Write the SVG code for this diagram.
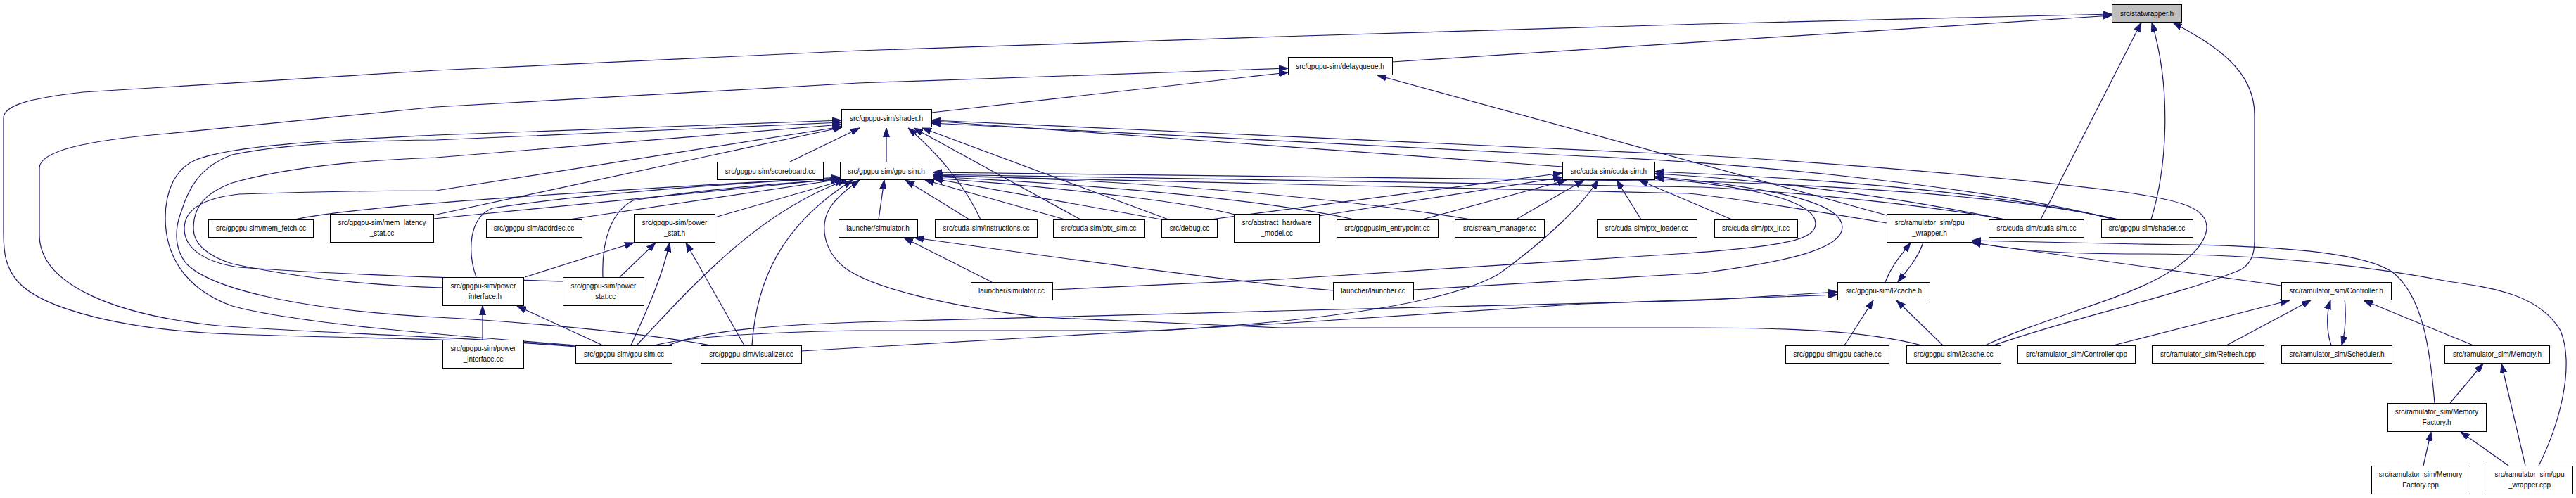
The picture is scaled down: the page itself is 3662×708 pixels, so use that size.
<svg xmlns="http://www.w3.org/2000/svg" width="3662" height="708" viewBox="0 0 3662 708">
<style>
.e{fill:none;stroke:#191970;stroke-width:1.2;marker-end:url(#ah)}
.n rect{fill:#fff;stroke:#000;stroke-width:1}
.n.root rect{fill:#bfbfbf}
text{font-family:"Liberation Sans",Arial,Helvetica,sans-serif;font-size:10px;text-anchor:middle;fill:#000}
</style>
<defs>
<marker id="ah" markerWidth="13" markerHeight="10" refX="13" refY="5" orient="auto" markerUnits="userSpaceOnUse">
<path d="M0,0.5 L13,5 L0,9.5 z" fill="#191970" stroke="#191970" stroke-width="1"/>
</marker>
</defs>
<rect width="3662" height="708" fill="#fff"/>
<g id="edges">
<path class="e" d="M1979,88 L3002,22"/>
<path class="e" d="M818,493 C700,482 500,481 330,475 C180,470 60,440 25,400 C8,380 5,360 5,330 L5,168 C5,150 40,140 118,131 L620,100 L1220,72 L1820,52 L2420,34 L3002,20"/>
<path class="e" d="M818,492 C700,480 400,472 300,462 C150,445 56,400 56,334 L56,239 C56,215 120,200 237,190 L620,152 L1220,118 L1831,97"/>
<path class="e" d="M820,491 C650,478 420,460 330,435 C260,410 235,360 235,310 C235,270 250,240 277,228 C330,205 500,198 620,192 L1196,171"/>
<path class="e" d="M1010,491 C900,470 700,455 620,451 C420,440 300,410 265,375 C245,350 250,320 258,300 C270,260 290,235 330,220 C400,205 500,200 620,199 L1196,174"/>
<path class="e" d="M629,409 C500,405 400,390 330,375 C290,362 275,345 275,325 C275,295 290,275 330,260 C400,240 500,228 620,224 L1196,177"/>
<path class="e" d="M800,400 C700,397 500,392 340,380 C285,372 262,350 262,325 C262,300 285,282 340,276 C450,272 550,271 620,271 L1197,180"/>
<path class="e" d="M419,312 C500,295 700,280 1194,252"/>
<path class="e" d="M616,306 L1197,181"/>
<path class="e" d="M616,311 L1194,254"/>
<path class="e" d="M677,394 C665,360 665,310 700,296 C800,280 1000,262 1194,253"/>
<path class="e" d="M809,312 L1194,255"/>
<path class="e" d="M1016,309 L1200,256"/>
<path class="e" d="M857,394 C855,340 870,300 900,285 C1000,268 1150,258 1194,255"/>
<path class="e" d="M881,394 L932,345"/>
<path class="e" d="M746,394 L901,345"/>
<path class="e" d="M897,491 C915,450 940,400 952,345"/>
<path class="e" d="M1058,491 L975,345"/>
<path class="e" d="M857,491 L735,435"/>
<path class="e" d="M686,483 L686,435"/>
<path class="e" d="M905,491 C990,400 1080,300 1203,256"/>
<path class="e" d="M1069,491 C1075,400 1110,320 1212,256"/>
<path class="e" d="M1139,499 L1500,478 L1820,460 L2250,432 L2612,419"/>
<path class="e" d="M950,491 C1000,470 1100,462 1220,458 L1820,442 L2420,427 L2612,415"/>
<path class="e" d="M930,491 C980,478 1100,472 1220,470 L1650,470 C1850,458 2050,435 2130,390 C2200,340 2250,290 2272,256"/>
<path class="e" d="M2732,491 C2650,470 2550,466 2400,466 L1820,466 L1480,451 C1350,436 1240,410 1200,380 C1170,355 1165,320 1180,295 C1190,280 1205,268 1222,256"/>
<path class="e" d="M2822,491 C2900,455 3000,430 3060,400 C3110,375 3137,345 3137,323 C3137,295 3100,285 3020,273 C2800,245 2500,225 2400,220 L1324,171"/>
<path class="e" d="M3005,312 C2850,270 2500,232 2250,222 L1324,175"/>
<path class="e" d="M2834,491 C2950,450 3100,420 3186,383 C3200,375 3205,360 3205,343 L3205,163 C3205,100 3150,65 3089,32"/>
<path class="e" d="M2762,491 L2696,427"/>
<path class="e" d="M2622,491 L2663,427"/>
<path class="e" d="M2901,312 L3044,32"/>
<path class="e" d="M3058,312 C3080,240 3088,130 3059,32"/>
<path class="e" d="M2682,306 L1958,107"/>
<path class="e" d="M1324,160 L1831,103"/>
<path class="e" d="M2734,345 C2725,370 2710,385 2698,401"/>
<path class="e" d="M2680,401 C2690,375 2705,360 2716,345"/>
<path class="e" d="M2682,317 C2550,295 2450,280 2400,275 L1326,250"/>
<path class="e" d="M2851,312 C2700,285 2500,270 2420,266 L1326,248"/>
<path class="e" d="M3012,312 C2850,275 2550,262 2420,258 L1326,245"/>
<path class="e" d="M2849,312 C2650,270 2450,252 2352,247"/>
<path class="e" d="M3010,312 C2800,265 2500,250 2352,244"/>
<path class="e" d="M2009,412 L2420,388 C2560,370 2619,350 2619,323 C2619,295 2560,270 2352,251"/>
<path class="e" d="M1496,412 L1820,397 L2400,360 C2540,350 2581,340 2581,318 C2581,295 2540,270 2352,253"/>
<path class="e" d="M2462,312 L2330,256"/>
<path class="e" d="M2333,312 L2298,256"/>
<path class="e" d="M2155,312 L2252,256"/>
<path class="e" d="M2022,312 L2227,256"/>
<path class="e" d="M1721,312 L2221,246"/>
<path class="e" d="M1875,307 L2221,252"/>
<path class="e" d="M2221,237 L1325,172"/>
<path class="e" d="M2091,312 C1900,280 1600,255 1327,249"/>
<path class="e" d="M1925,312 C1800,285 1600,265 1327,251"/>
<path class="e" d="M1755,305 C1700,290 1550,270 1327,253"/>
<path class="e" d="M1651,312 L1327,254"/>
<path class="e" d="M1661,312 L1311,182"/>
<path class="e" d="M1536,312 L1299,182"/>
<path class="e" d="M1514,312 L1315,256"/>
<path class="e" d="M1394,312 C1370,260 1330,215 1291,182"/>
<path class="e" d="M1378,312 L1287,256"/>
<path class="e" d="M1249,312 L1257,256"/>
<path class="e" d="M1260,230 L1260,182"/>
<path class="e" d="M1123,230 L1222,182"/>
<path class="e" d="M1410,401 L1285,338"/>
<path class="e" d="M1895,413 C1800,405 1600,380 1300,338"/>
<path class="e" d="M3004,491 L3255,427"/>
<path class="e" d="M3165,491 L3285,427"/>
<path class="e" d="M3314,491 C3307,470 3307,445 3313,427"/>
<path class="e" d="M3329,401 C3336,430 3336,465 3329,491"/>
<path class="e" d="M3516,491 L3360,427"/>
<path class="e" d="M3483,573 L3530,517"/>
<path class="e" d="M3590,662 L3556,517"/>
<path class="e" d="M3445,662 L3456,614"/>
<path class="e" d="M3566,662 L3498,614"/>
<path class="e" d="M3461,573 C3455,500 3445,420 3400,386 C3360,360 3250,348 3042,347 L2803,342"/>
<path class="e" d="M3609,662 C3640,600 3660,520 3640,470 C3610,420 3550,410 3480,400 C3350,375 3200,361 3042,361 C2950,361 2870,358 2803,344"/>
<path class="e" d="M3243,406 L2803,345"/>
</g>
<g id="n_statwrapper" class="n root"><rect x="3002.5" y="6.5" width="99" height="25"/><text x="3052" y="22.5">src/statwrapper.h</text></g>
<g id="n_delayqueue" class="n"><rect x="1831.5" y="81.5" width="148" height="25"/><text x="1905" y="97.5">src/gpgpu-sim/delayqueue.h</text></g>
<g id="n_shader_h" class="n"><rect x="1196.5" y="155.5" width="128" height="25"/><text x="1260" y="171.5">src/gpgpu-sim/shader.h</text></g>
<g id="n_gpusim_h" class="n"><rect x="1194.5" y="230.5" width="132" height="25"/><text x="1260" y="246.5">src/gpgpu-sim/gpu-sim.h</text></g>
<g id="n_scoreboard" class="n"><rect x="1019.5" y="230.5" width="151" height="25"/><text x="1095" y="246.5">src/gpgpu-sim/scoreboard.cc</text></g>
<g id="n_cudasim_h" class="n"><rect x="2221.5" y="230.5" width="131" height="25"/><text x="2287" y="246.5">src/cuda-sim/cuda-sim.h</text></g>
<g id="n_mem_fetch" class="n"><rect x="296.5" y="312.5" width="149" height="25"/><text x="371" y="328">src/gpgpu-sim/mem_fetch.cc</text></g>
<g id="n_mem_latency" class="n"><rect x="469.5" y="304.5" width="147" height="40"/><text x="543" y="320">src/gpgpu-sim/mem_latency</text><text x="543" y="335">_stat.cc</text></g>
<g id="n_addrdec" class="n"><rect x="691.5" y="312.5" width="136" height="25"/><text x="759" y="328">src/gpgpu-sim/addrdec.cc</text></g>
<g id="n_power_stat_h" class="n"><rect x="901.5" y="304.5" width="115" height="40"/><text x="959" y="320">src/gpgpu-sim/power</text><text x="959" y="335">_stat.h</text></g>
<g id="n_simulator_h" class="n"><rect x="1192.5" y="312.5" width="112" height="25"/><text x="1248" y="328">launcher/simulator.h</text></g>
<g id="n_instructions" class="n"><rect x="1329.5" y="312.5" width="145" height="25"/><text x="1402" y="328">src/cuda-sim/instructions.cc</text></g>
<g id="n_ptx_sim" class="n"><rect x="1497.5" y="312.5" width="130" height="25"/><text x="1562" y="328">src/cuda-sim/ptx_sim.cc</text></g>
<g id="n_debug" class="n"><rect x="1651.5" y="312.5" width="79" height="25"/><text x="1691" y="328">src/debug.cc</text></g>
<g id="n_abstract" class="n"><rect x="1754.5" y="304.5" width="121" height="40"/><text x="1815" y="320">src/abstract_hardware</text><text x="1815" y="335">_model.cc</text></g>
<g id="n_entrypoint" class="n"><rect x="1900.5" y="312.5" width="144" height="25"/><text x="1972" y="328">src/gpgpusim_entrypoint.cc</text></g>
<g id="n_stream_manager" class="n"><rect x="2068.5" y="312.5" width="127" height="25"/><text x="2132" y="328">src/stream_manager.cc</text></g>
<g id="n_ptx_loader" class="n"><rect x="2270.5" y="312.5" width="142" height="25"/><text x="2341" y="328">src/cuda-sim/ptx_loader.cc</text></g>
<g id="n_ptx_ir" class="n"><rect x="2437.5" y="312.5" width="118" height="25"/><text x="2496" y="328">src/cuda-sim/ptx_ir.cc</text></g>
<g id="n_gpu_wrapper_h" class="n"><rect x="2682.5" y="304.5" width="121" height="40"/><text x="2743" y="320">src/ramulator_sim/gpu</text><text x="2743" y="335">_wrapper.h</text></g>
<g id="n_cudasim_cc" class="n"><rect x="2827.5" y="312.5" width="135" height="25"/><text x="2895" y="328">src/cuda-sim/cuda-sim.cc</text></g>
<g id="n_shader_cc" class="n"><rect x="2987.5" y="312.5" width="130" height="25"/><text x="3052" y="328">src/gpgpu-sim/shader.cc</text></g>
<g id="n_power_interface_h" class="n"><rect x="629.5" y="394.5" width="115" height="40"/><text x="687" y="410">src/gpgpu-sim/power</text><text x="687" y="425">_interface.h</text></g>
<g id="n_power_stat_cc" class="n"><rect x="800.5" y="394.5" width="115" height="40"/><text x="858" y="410">src/gpgpu-sim/power</text><text x="858" y="425">_stat.cc</text></g>
<g id="n_simulator_cc" class="n"><rect x="1380.5" y="401.5" width="116" height="25"/><text x="1438" y="417">launcher/simulator.cc</text></g>
<g id="n_launcher_cc" class="n"><rect x="1895.5" y="401.5" width="114" height="25"/><text x="1952" y="417">launcher/launcher.cc</text></g>
<g id="n_l2cache_h" class="n"><rect x="2612.5" y="401.5" width="131" height="25"/><text x="2678" y="417">src/gpgpu-sim/l2cache.h</text></g>
<g id="n_controller_h" class="n"><rect x="3243.5" y="401.5" width="156" height="25"/><text x="3321" y="417">src/ramulator_sim/Controller.h</text></g>
<g id="n_power_interface_cc" class="n"><rect x="629.5" y="483.5" width="115" height="40"/><text x="687" y="499">src/gpgpu-sim/power</text><text x="687" y="514">_interface.cc</text></g>
<g id="n_gpusim_cc" class="n"><rect x="818.5" y="491.5" width="137" height="25"/><text x="887" y="507">src/gpgpu-sim/gpu-sim.cc</text></g>
<g id="n_visualizer" class="n"><rect x="996.5" y="491.5" width="143" height="25"/><text x="1068" y="507">src/gpgpu-sim/visualizer.cc</text></g>
<g id="n_gpu_cache" class="n"><rect x="2538.5" y="491.5" width="147" height="25"/><text x="2612" y="507">src/gpgpu-sim/gpu-cache.cc</text></g>
<g id="n_l2cache_cc" class="n"><rect x="2710.5" y="491.5" width="134" height="25"/><text x="2777" y="507">src/gpgpu-sim/l2cache.cc</text></g>
<g id="n_controller_cpp" class="n"><rect x="2868.5" y="491.5" width="167" height="25"/><text x="2952" y="507">src/ramulator_sim/Controller.cpp</text></g>
<g id="n_refresh" class="n"><rect x="3059.5" y="491.5" width="159" height="25"/><text x="3139" y="507">src/ramulator_sim/Refresh.cpp</text></g>
<g id="n_scheduler" class="n"><rect x="3243.5" y="491.5" width="157" height="25"/><text x="3322" y="507">src/ramulator_sim/Scheduler.h</text></g>
<g id="n_memory_h" class="n"><rect x="3475.5" y="491.5" width="149" height="25"/><text x="3550" y="507">src/ramulator_sim/Memory.h</text></g>
<g id="n_memfactory_h" class="n"><rect x="3394.5" y="573.5" width="140" height="40"/><text x="3464" y="589">src/ramulator_sim/Memory</text><text x="3464" y="604">Factory.h</text></g>
<g id="n_memfactory_cpp" class="n"><rect x="3371.5" y="662.5" width="140" height="40"/><text x="3441" y="678">src/ramulator_sim/Memory</text><text x="3441" y="693">Factory.cpp</text></g>
<g id="n_gpu_wrapper_cpp" class="n"><rect x="3535.5" y="662.5" width="122" height="40"/><text x="3596" y="678">src/ramulator_sim/gpu</text><text x="3596" y="693">_wrapper.cpp</text></g>
</svg>
